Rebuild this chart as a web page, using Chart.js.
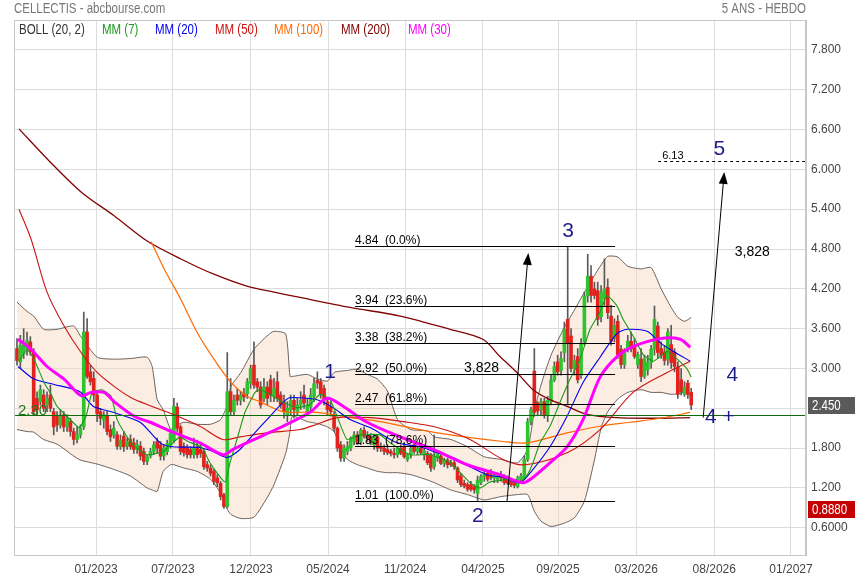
<!DOCTYPE html>
<html>
<head>
<meta charset="utf-8">
<title>CELLECTIS - 5 ans hebdo</title>
<script src="https://cdn.jsdelivr.net/npm/chart.js@4.4.1/dist/chart.umd.min.js"></script>
<style>
  html, body { margin: 0; padding: 0; background: #fff; }
  canvas { display: block; }
</style>
</head>
<body>
<canvas id="chart" width="855" height="580"></canvas>
<script>
// Weekly candles, week 0 = first bar on the left (mid 2022)
const opens = [
  3.30,3.10,3.22,3.30,3.40,3.25,2.55,2.50,2.60,2.45,
  2.60,2.35,2.28,2.15,2.30,2.12,2.20,2.05,1.93,2.00,
  2.12,3.55,2.95,2.85,2.60,2.35,2.22,2.28,2.08,2.00,
  2.00,1.82,1.98,1.83,1.93,1.88,1.78,1.83,1.75,1.60,
  1.68,1.75,1.90,1.85,1.68,1.75,1.85,1.92,2.42,2.12,
  1.82,1.80,1.78,1.70,1.82,1.78,1.75,1.55,1.50,1.45,
  1.35,1.27,1.10,0.92,2.65,2.35,2.60,2.52,2.62,2.62,
  2.78,3.05,2.80,2.72,2.55,2.72,2.83,2.58,2.80,2.60,
  2.50,2.30,2.38,2.52,2.35,2.45,2.60,2.35,2.42,2.58,
  2.82,2.80,2.70,2.50,2.42,2.30,2.10,1.85,1.65,1.75,
  1.80,1.90,2.00,1.90,2.07,1.98,1.97,1.85,1.97,1.82,
  1.80,1.78,1.75,1.72,1.70,1.80,1.82,1.63,1.70,1.85,
  1.75,1.80,1.70,1.72,1.70,1.52,1.65,1.68,1.57,1.62,
  1.58,1.58,1.50,1.38,1.27,1.25,1.25,1.22,1.12,1.28,
  1.37,1.42,1.40,1.35,1.33,1.40,1.35,1.33,1.30,1.28,
  1.22,1.33,1.35,1.63,2.20,2.96,2.48,2.38,2.50,2.30,
  2.50,2.83,3.10,2.97,3.24,3.74,3.49,3.00,3.18,2.90,
  3.40,4.09,4.39,4.20,4.17,3.78,4.05,4.22,3.79,3.45,
  3.71,3.29,3.06,3.29,3.41,3.33,3.06,3.14,2.88,2.98,
  3.09,3.29,3.64,3.30,3.25,3.14,3.36,3.24,3.02,2.83,
  2.61,2.78,2.64
];
const highs = [
  3.45,3.50,3.60,3.55,3.48,3.30,2.65,2.75,2.68,2.65,
  2.75,2.40,2.35,2.38,2.35,2.30,2.25,2.10,2.12,2.15,
  3.85,3.75,3.05,2.95,2.65,2.40,2.35,2.35,2.15,2.20,
  2.05,2.00,2.05,1.95,2.00,1.95,1.92,1.90,1.80,1.70,
  1.80,1.90,1.95,1.90,1.85,1.92,2.08,2.55,2.48,2.15,
  1.88,1.85,1.82,1.95,1.92,1.85,1.78,1.60,1.55,1.48,
  1.40,1.30,1.12,3.24,2.85,2.60,2.70,2.65,2.70,2.85,
  3.05,3.40,2.85,2.80,2.85,2.80,2.90,2.85,2.95,2.65,
  2.60,2.50,2.60,2.60,2.55,2.65,2.75,2.55,2.70,2.85,
  2.95,2.85,2.75,2.55,2.50,2.35,2.12,1.90,1.85,1.90,
  1.97,2.05,2.05,2.10,2.12,2.05,2.02,2.00,2.00,1.88,
  1.85,1.85,1.78,1.80,1.82,1.85,1.88,1.72,1.82,1.90,
  1.82,1.85,1.80,1.75,1.72,2.00,1.75,1.70,1.65,1.65,
  1.62,1.65,1.52,1.42,1.32,1.28,1.30,1.25,1.38,1.40,
  1.45,1.45,1.48,1.42,1.42,1.45,1.40,1.38,1.35,1.32,
  1.38,1.42,1.68,2.25,2.42,3.30,2.50,2.55,2.55,2.58,
  2.90,3.10,3.20,3.25,3.70,4.84,3.60,3.20,3.30,3.45,
  4.15,4.72,4.55,4.30,4.30,4.25,4.65,4.35,3.95,3.75,
  3.80,3.35,3.30,3.50,3.55,3.45,3.25,3.30,3.20,3.20,
  3.35,3.94,3.70,3.40,3.35,3.60,3.65,3.30,3.10,3.00,
  2.80,2.82,2.70
];
const lows = [
  3.05,3.00,3.15,3.20,3.20,2.30,2.30,2.45,2.35,2.35,
  2.35,2.00,2.05,2.10,2.05,2.05,1.98,1.85,1.88,1.95,
  2.08,2.85,2.75,2.50,2.20,2.15,2.10,2.00,1.90,1.95,
  1.78,1.78,1.75,1.78,1.78,1.72,1.72,1.62,1.55,1.55,
  1.65,1.70,1.72,1.62,1.62,1.70,1.80,1.88,2.05,1.70,
  1.68,1.65,1.65,1.65,1.65,1.66,1.48,1.45,1.38,1.25,
  1.22,1.02,0.89,0.90,2.30,2.30,2.45,2.45,2.50,2.55,
  2.70,2.70,2.65,2.40,2.50,2.45,2.50,2.50,2.50,2.40,
  2.25,2.20,2.30,2.25,2.30,2.38,2.40,2.30,2.35,2.50,
  2.70,2.55,2.45,2.30,2.28,2.05,1.75,1.60,1.60,1.70,
  1.76,1.85,1.85,1.85,1.95,1.90,1.85,1.78,1.75,1.75,
  1.70,1.70,1.68,1.65,1.66,1.70,1.65,1.60,1.65,1.72,
  1.70,1.70,1.62,1.55,1.45,1.48,1.60,1.55,1.52,1.50,
  1.52,1.48,1.28,1.22,1.20,1.15,1.15,1.12,1.01,1.25,
  1.30,1.30,1.32,1.28,1.28,1.30,1.25,1.25,1.22,1.20,
  1.20,1.30,1.33,1.60,2.15,2.28,2.30,2.30,2.25,2.20,
  2.45,2.80,2.90,2.90,3.10,2.45,2.95,2.90,2.78,2.85,
  3.35,4.00,4.00,4.05,3.65,3.70,3.95,3.75,3.35,3.40,
  3.15,3.00,3.00,3.25,3.25,3.15,3.00,2.80,2.85,2.90,
  3.00,3.20,3.15,3.15,3.05,3.05,3.00,2.95,2.55,2.60,
  2.58,2.55,2.38
];
const closes = [
  3.12,3.35,3.36,3.42,3.25,2.35,2.38,2.68,2.40,2.55,
  2.40,2.12,2.15,2.30,2.12,2.25,2.05,1.93,2.00,2.10,
  3.55,2.88,2.80,2.60,2.32,2.25,2.30,2.05,1.97,2.10,
  1.83,1.92,1.82,1.90,1.82,1.78,1.85,1.68,1.60,1.67,
  1.75,1.85,1.80,1.68,1.80,1.87,2.02,2.43,2.10,1.75,
  1.73,1.70,1.70,1.80,1.70,1.72,1.52,1.50,1.42,1.30,
  1.28,1.07,0.92,2.65,2.35,2.52,2.52,2.60,2.57,2.80,
  3.00,2.75,2.72,2.45,2.72,2.55,2.60,2.70,2.55,2.45,
  2.35,2.40,2.52,2.38,2.45,2.52,2.48,2.45,2.60,2.77,
  2.78,2.62,2.55,2.38,2.35,2.10,1.80,1.65,1.80,1.83,
  1.95,2.00,1.88,2.07,1.98,1.95,1.88,1.97,1.80,1.80,
  1.75,1.73,1.72,1.70,1.80,1.72,1.67,1.70,1.80,1.75,
  1.80,1.73,1.76,1.58,1.50,1.68,1.72,1.57,1.62,1.55,
  1.55,1.52,1.32,1.25,1.23,1.18,1.18,1.17,1.32,1.37,
  1.40,1.33,1.36,1.38,1.38,1.36,1.28,1.27,1.25,1.24,
  1.35,1.38,1.63,2.20,2.38,2.34,2.36,2.50,2.30,2.52,
  2.83,3.03,2.95,3.15,3.59,3.38,3.00,3.12,2.83,3.38,
  4.09,4.39,4.10,4.10,3.74,4.15,4.20,3.84,3.41,3.65,
  3.21,3.06,3.24,3.41,3.30,3.18,3.21,2.88,3.15,3.10,
  3.29,3.74,3.24,3.20,3.12,3.55,3.09,3.03,2.61,2.65,
  2.72,2.61,2.45
];

// Bollinger (20, 2)
const bollWeeks = [0,3,5,8,12,17,19,24,29,34, 39,40.5,42,43.8,46,47,50,54,58,61,
  63,64.1,67.1,71,74.9,77,80.5,81.8,82.5,87, 90,93,95,97,99,102,105,108,111,114,
  118,123,125,130,135,140,145,150,153,155, 157,160,164,167,170,173,175,177,180,183,
  187,190,193,196,198,200,202];
const bollUpper = [4.00,3.86,3.79,3.59,3.59,3.64,3.49,3.17,3.14,3.15, 3.17,3.03,2.53,2.38,2.08,2.12,2.19,2.16,2.16,2.23,
  2.45,2.73,2.94,3.29,3.49,3.56,3.52,2.88,2.88,2.91, 2.84,2.81,2.94,2.96,2.97,2.99,2.91,2.84,2.66,2.23,
  2.08,2.06,1.97,1.93,1.82,1.67,1.63,1.58,1.78,2.35, 2.75,3.20,3.62,3.88,4.15,4.40,4.56,4.69,4.68,4.54,
  4.50,4.52,4.20,3.92,3.77,3.71,3.77];
const bollLower = [2.08,2.05,2.04,1.93,1.86,1.68,1.62,1.56,1.48,1.38, 1.20,1.17,1.15,1.45,1.55,1.55,1.50,1.45,1.33,1.12,
  0.88,0.80,0.74,0.76,1.05,1.25,1.72,2.05,2.28,2.20, 2.17,2.12,2.05,1.80,1.63,1.55,1.50,1.45,1.43,1.43,
  1.40,1.32,1.28,1.17,1.10,1.02,1.07,1.10,1.10,0.85, 0.70,0.62,0.67,0.75,1.00,1.62,2.10,2.35,2.54,2.64,
  2.68,2.64,2.64,2.61,2.62,2.64,2.58];

// Moving averages, sampled along each curve
const ma7Weeks = [0.6,3,5.1,8.1,10.2,12,15,18.6,20.7,22.5,25.5,28.2,30,33,35.4,39,43.8,46.7,48.8,51.2,
  55.4,57.8,62.3,63.8,65.9,68.3,71.3,72.8,75.8,79.7,83.9,87.8,90.8,93.8,95.9,98.9,102.8,108.8,111.8,117.8,
  123.8,129.8,135.7,138.7,141.7,147.7,150.7,152.8,154.6,156.7,159.7,162.7,165.7,168.7,171.7,174.7,176.8,179.8,181.6,184.6,
  187.6,190.6,192.7,194.8,197.8,200.8,202];
const ma7 = [3.11,3.29,3.14,2.79,2.61,2.43,2.28,2.11,2.28,2.64,2.68,2.58,2.23,1.97,1.82,1.70,1.75,1.88,1.97,1.90,
  1.81,1.58,1.29,1.58,1.93,2.34,2.64,2.68,2.61,2.49,2.41,2.46,2.61,2.53,2.28,1.93,2.00,2.00,1.88,1.70,
  1.70,1.58,1.28,1.20,1.29,1.33,1.29,1.39,1.58,1.88,2.13,2.49,2.84,3.14,3.59,3.85,4.10,3.94,3.74,3.49,
  3.21,3.11,3.18,3.26,3.14,2.99,2.87];

const ma20Weeks = [0.3,5.1,11.1,18.9,22.8,28.8,36.9,42.9,46.7,54.8,58.7,62.9,66.8,70.7,74.9,79.7,81.8,89.9,94.7,99.8,
  105.8,113.9,120.8,125.9,130.7,135.7,140.8,145.6,150.7,154.6,159.7,164.8,169.6,174.7,179.8,182.8,188.8,192.7,196.6,201.7];
const ma20 = [3.03,2.84,2.76,2.65,2.43,2.34,2.19,1.88,1.82,1.81,1.75,1.66,1.78,2.00,2.23,2.49,2.56,2.53,2.41,2.23,
  2.11,1.88,1.82,1.73,1.66,1.52,1.40,1.36,1.28,1.48,1.82,2.28,2.79,3.17,3.53,3.59,3.56,3.39,3.26,3.11];

const ma30Weeks = [0.3,4.2,9,14.1,19.2,22.2,26.1,29.1,35.1,39.9,46.7,54.8,61.7,64.7,72.8,79.7,87.8,92.9,97.7,104.9,
  114.8,124.7,134.9,144.7,151.6,154.6,159.7,164.8,169.6,174.7,179.8,184.6,192.7,198.7,201.7];
const ma30 = [3.44,3.29,3.03,2.84,2.59,2.64,2.64,2.50,2.28,2.19,2.04,1.88,1.70,1.78,1.97,2.13,2.34,2.55,2.43,2.19,
  1.97,1.78,1.55,1.40,1.28,1.36,1.58,1.82,2.23,2.87,3.18,3.33,3.45,3.44,3.32];

const ma50Weeks = [0.6,4.2,9,14.1,19.2,24,29.1,34.2,39.9,46.7,54.8,61.7,66.8,74.9,84.8,89.9,95.9,105.8,115.7,125.9,
  135.7,145.6,152.2,164.8,174.7,184.6,194.8,201.7];
const ma50 = [5.40,4.95,4.15,3.64,3.24,2.94,2.73,2.56,2.44,2.31,2.13,1.93,1.97,2.03,2.08,2.16,2.26,2.26,2.20,2.11,
  1.93,1.63,1.55,1.73,2.08,2.64,2.94,3.11];

const ma100Weeks = [40.2,44.1,49.1,53.9,59,64.1,68.9,72.8,79.7,89.9,99.8,108.8,125.9,145.6,152.8,164.8,174.7,183.7,192.7,201.7];
const ma100 = [4.91,4.50,4.04,3.55,3.14,2.79,2.58,2.50,2.35,2.34,2.26,2.20,2.03,1.90,1.88,2.03,2.13,2.19,2.25,2.34];

const ma200Weeks = [0.6,9,19.2,29.1,39,49.1,59,68.9,77,84.8,99.8,114.8,129.8,139.6,144.7,149.8,154.6,159.7,164.8,170.8,
  179.8,191.8,201.7];
const ma200 = [6.61,6.16,5.66,5.30,4.92,4.65,4.42,4.24,4.15,4.07,3.92,3.79,3.59,3.44,3.18,2.94,2.68,2.53,2.43,2.31,
  2.26,2.25,2.26];

// Axis ticks
const xTickWeeks = [23.7,46.7,70.1,93.2,116.3,139.6,162.1,185.5,208.9,231.9];
const xTickLabels = ['01/2023','07/2023','12/2023','05/2024','11/2024','04/2025','09/2025','03/2026','08/2026','01/2027'];
const yTickValues = [0.6,1.2,1.8,2.4,3.0,3.6,4.2,4.8,5.4,6.0,6.6,7.2,7.8];
const yTickLabels = ['0.6000','1.200','1.800','2.400','3.000','3.600','4.200','4.800','5.400','6.000','6.600','7.200','7.800'];

// Fibonacci retracement of wave 2 -> 3
const fibLevels = [4.84,3.94,3.38,2.92,2.47,1.83,1.01];
const fibPcts = ['0.0%','23.6%','38.2%','50.0%','61.8%','78.6%','100.0%'];
const fibFromWeek = 101.3, fibToWeek = 179.2;

const supportLevel = 2.30;
const targetLevel = 6.13, targetFromWeek = 192.1;
const lastPrice = 2.45, lowPrice = 0.888;

// Elliott wave annotations (week, price)
const waveTexts = ['1','2','3','4','4 +','5'];
const waveWeeks = [93.8,138.1,165.1,214.3,210.6,210.4];
const wavePrices = [2.94,0.77,5.07,2.90,2.26,6.31];
const arrowFrom = [[146.8,0.99],[205.6,2.26]];
const arrowTo = [[153.2,4.74],[211.9,5.96]];
const moveTexts = ['3,828','3,828'];
const moveWeeks = [139.2,220.3];
const movePrices = [3.01,4.76];

const legendTexts = ['BOLL (20, 2)','MM (7)','MM (20)','MM (50)','MM (100)','MM (200)','MM (30)'];

const SANS = '"Liberation Sans", Arial, sans-serif';
const GREEN = '#2fc42f', RED = '#e2231d';
const legendColors = ['#333333','#1a9a1a','#0000ee','#cc1111','#ff6a00','#800000','#ff00ff'];
const legendX = [19,102,155,215,274,341,408];

const weeks = opens.map((_, i) => i);
const pts = (xs, ys) => xs.map((x, i) => ({ x: x, y: ys[i] }));

function maLine(label, xs, ys, color, width, order, tension) {
  return {
    type: 'line', label: label, data: pts(xs, ys),
    borderColor: color, borderWidth: width, pointRadius: 0,
    fill: false, tension: tension, order: order
  };
}

// condensed text: Arial metrics squeezed like Arial Narrow
function narrowText(ctx, text, x, y, align, size) {
  ctx.save();
  ctx.font = (size || 14) + 'px ' + SANS;
  ctx.textBaseline = 'middle';
  ctx.textAlign = 'left';
  const w = ctx.measureText(text).width * 0.82;
  const left = align === 'right' ? x - w : (align === 'center' ? x - w / 2 : x);
  ctx.translate(left, y);
  ctx.scale(0.82, 1);
  ctx.fillText(text, 0, 0);
  ctx.restore();
}

function drawArrow(ctx, x0, y0, x1, y1) {
  const a = Math.atan2(y1 - y0, x1 - x0);
  const len = 12, half = 4.5;
  ctx.beginPath();
  ctx.moveTo(x0, y0);
  ctx.lineTo(x1 - Math.cos(a) * len * 0.8, y1 - Math.sin(a) * len * 0.8);
  ctx.stroke();
  ctx.beginPath();
  ctx.moveTo(x1, y1);
  ctx.lineTo(x1 - Math.cos(a) * len - Math.sin(a) * half, y1 - Math.sin(a) * len + Math.cos(a) * half);
  ctx.lineTo(x1 - Math.cos(a) * len + Math.sin(a) * half, y1 - Math.sin(a) * len - Math.cos(a) * half);
  ctx.closePath();
  ctx.fill();
}

function priceBox(ctx, y, text, color) {
  ctx.fillStyle = color;
  ctx.fillRect(808, Math.round(y) - 8, 47, 17);
  ctx.fillStyle = '#fff';
  narrowText(ctx, text, 812, Math.round(y) + 1, 'left', 14);
}

const overlay = {
  id: 'overlay',
  beforeDraw(chart) {
    const ctx = chart.ctx;
    ctx.save();
    ctx.fillStyle = '#fff';
    ctx.fillRect(0, 0, chart.width, chart.height);
    ctx.restore();
  },
  afterDatasetsDraw(chart) {
    const ctx = chart.ctx, xs = chart.scales.x, ys = chart.scales.y, area = chart.chartArea;
    ctx.save();

    // support line
    const ySup = Math.round(ys.getPixelForValue(supportLevel)) + 0.5;
    ctx.strokeStyle = '#0b6b0b';
    ctx.lineWidth = 1.2;
    ctx.beginPath();
    ctx.moveTo(area.left, ySup);
    ctx.lineTo(area.right, ySup);
    ctx.stroke();
    ctx.fillStyle = '#1f7a1f';
    ctx.font = '15px ' + SANS;
    ctx.textAlign = 'left';
    ctx.textBaseline = 'alphabetic';
    ctx.fillText(supportLevel.toFixed(2), area.left + 4, ySup - 1);

    // fibonacci levels
    ctx.strokeStyle = '#000';
    ctx.lineWidth = 1;
    ctx.fillStyle = '#000';
    ctx.font = '12px ' + SANS;
    const fx0 = xs.getPixelForValue(fibFromWeek), fx1 = xs.getPixelForValue(fibToWeek);
    fibLevels.forEach((lv, i) => {
      const y = Math.round(ys.getPixelForValue(lv)) + 0.5;
      ctx.beginPath();
      ctx.moveTo(fx0, y);
      ctx.lineTo(fx1, y);
      ctx.stroke();
      ctx.fillText(lv.toFixed(2) + '  (' + fibPcts[i] + ')', fx0, y - 3);
    });

    // target level
    const yT = Math.round(ys.getPixelForValue(targetLevel)) + 0.5;
    const tx = xs.getPixelForValue(targetFromWeek);
    ctx.setLineDash([3, 3]);
    ctx.beginPath();
    ctx.moveTo(tx, yT);
    ctx.lineTo(area.right, yT);
    ctx.stroke();
    ctx.setLineDash([]);
    ctx.font = '11px ' + SANS;
    ctx.fillText(targetLevel.toFixed(2), tx + 4, yT - 3);

    // arrows
    ctx.lineWidth = 1;
    arrowFrom.forEach((p, i) => {
      drawArrow(ctx, xs.getPixelForValue(p[0]), ys.getPixelForValue(p[1]),
        xs.getPixelForValue(arrowTo[i][0]), ys.getPixelForValue(arrowTo[i][1]));
    });

    ctx.textAlign = 'center';
    ctx.textBaseline = 'middle';
    ctx.font = '14px ' + SANS;
    moveTexts.forEach((t, i) => {
      ctx.fillText(t, xs.getPixelForValue(moveWeeks[i]), ys.getPixelForValue(movePrices[i]));
    });

    ctx.fillStyle = '#1c1c8a';
    ctx.font = '21px ' + SANS;
    waveTexts.forEach((t, i) => {
      ctx.fillText(t, xs.getPixelForValue(waveWeeks[i]), ys.getPixelForValue(wavePrices[i]));
    });
    ctx.restore();
  },
  afterDraw(chart) {
    const ctx = chart.ctx, ys = chart.scales.y, area = chart.chartArea;
    ctx.save();
    ctx.strokeStyle = '#c8c8c8';
    ctx.lineWidth = 1;
    ctx.strokeRect(area.left + 0.5, area.top + 0.5, area.right - area.left - 1, area.bottom - area.top);

    ctx.fillStyle = '#777';
    narrowText(ctx, 'CELLECTIS - abcbourse.com', 14, 9, 'left', 14);
    narrowText(ctx, '5 ANS - HEBDO', area.right, 9, 'right', 14);

    legendTexts.forEach((t, i) => {
      ctx.fillStyle = legendColors[i];
      narrowText(ctx, t, legendX[i], 30, 'left', 14);
    });

    priceBox(ctx, ys.getPixelForValue(lastPrice), lastPrice.toFixed(3), '#5a5a5a');
    priceBox(ctx, ys.getPixelForValue(lowPrice), lowPrice.toFixed(4), '#c40000');
    ctx.restore();
  }
};

new Chart(document.getElementById('chart'), {
  type: 'line',
  data: {
    datasets: [
      {
        type: 'line', label: 'BOLL haut', data: pts(bollWeeks, bollUpper),
        borderColor: '#6d625b', borderWidth: 1, pointRadius: 0, tension: 0.2,
        fill: '+1', backgroundColor: 'rgba(249, 214, 190, 0.45)', order: 20
      },
      {
        type: 'line', label: 'BOLL bas', data: pts(bollWeeks, bollLower),
        borderColor: '#6d625b', borderWidth: 1, pointRadius: 0, tension: 0.2,
        fill: false, order: 19
      },
      {
        type: 'bar', label: 'meches',
        data: weeks.map(i => ({ x: i, y: [lows[i], highs[i]] })),
        backgroundColor: '#5a5a5a', barThickness: 1, grouped: false, order: 9
      },
      {
        type: 'bar', label: 'corps',
        data: weeks.map(i => ({ x: i, y: [opens[i], closes[i]] })),
        backgroundColor: weeks.map(i => closes[i] >= opens[i] ? GREEN : RED),
        barThickness: 3, grouped: false, order: 8
      },
      maLine('MM (200)', ma200Weeks, ma200, '#820404', 1.3, 6, 0.3),
      maLine('MM (100)', ma100Weeks, ma100, '#ff6a00', 1.2, 5, 0.3),
      maLine('MM (50)', ma50Weeks, ma50, '#cc1111', 1.1, 4, 0.3),
      maLine('MM (20)', ma20Weeks, ma20, '#0000ee', 1.1, 3, 0.25),
      maLine('MM (7)', ma7Weeks, ma7, '#1a9a1a', 1.1, 2, 0.15),
      maLine('MM (30)', ma30Weeks, ma30, '#ff00ff', 3, 1, 0.3)
    ]
  },
  options: {
    responsive: false,
    animation: false,
    events: [],
    layout: { padding: { left: 14, top: 20, right: 0, bottom: 0 } },
    plugins: { legend: { display: false }, tooltip: { enabled: false } },
    scales: {
      x: {
        type: 'linear', min: -0.9, max: 236.4, offset: false,
        afterBuildTicks: s => { s.ticks = xTickWeeks.map(v => ({ value: v })); },
        afterFit: s => { s.height = 25; },
        ticks: {
          callback: (v, i) => xTickLabels[i], autoSkip: false, maxRotation: 0,
          color: '#444', font: { family: SANS, size: 12 }, padding: 7
        },
        grid: { color: '#dcdcdc', drawTicks: false, offset: false },
        border: { color: '#c8c8c8' }
      },
      y: {
        type: 'linear', position: 'right', min: 0.19, max: 8.25,
        afterBuildTicks: s => { s.ticks = yTickValues.map(v => ({ value: v })); },
        afterFit: s => { s.width = 49; },
        ticks: {
          callback: (v, i) => yTickLabels[i],
          color: '#444', font: { family: SANS, size: 12 }, padding: 5
        },
        grid: { color: '#dcdcdc', drawTicks: false },
        border: { color: '#c8c8c8' }
      }
    }
  },
  plugins: [overlay]
});
</script>
</body>
</html>
